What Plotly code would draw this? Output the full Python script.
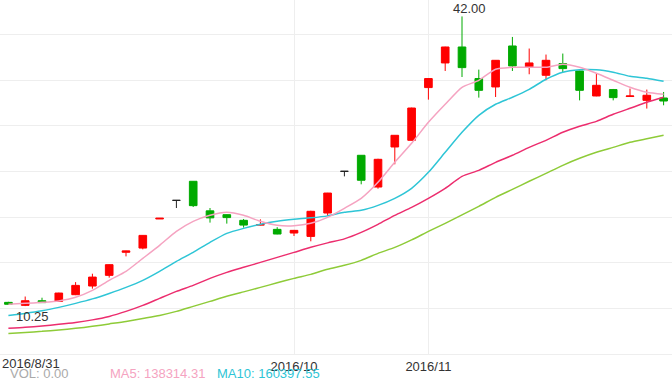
import plotly.graph_objects as go

# ---- data ----
opens = [10.66, 10.33, 10.84, 10.77, 11.50, 12.45, 13.62, 16.15, 16.61, 19.80,
         21.84, 23.93, 20.69, 20.27, 19.65, 19.13, 18.66, 18.26, 17.89, 20.45,
         25.02, 26.78, 23.30, 27.69, 28.42, 34.20, 36.90, 38.65, 35.19, 34.27,
         38.76, 36.46, 35.55, 36.83, 36.02, 33.28, 33.98, 33.22, 32.80, 33.06]
highs = [10.72, 11.30, 11.17, 11.72, 12.88, 13.80, 14.83, 16.32, 18.02, 19.88,
         21.84, 23.95, 21.00, 20.30, 19.80, 19.76, 18.90, 18.60, 20.70, 22.66,
         25.02, 26.80, 26.40, 29.00, 32.00, 35.22, 38.68, 42.00, 36.17, 37.22,
         39.75, 38.48, 37.82, 37.93, 36.05, 35.80, 34.05, 34.09, 33.98, 33.72]
lows = [10.38, 10.25, 10.60, 10.74, 11.45, 12.16, 13.37, 15.70, 16.47, 19.80,
        21.00, 21.11, 19.40, 19.29, 18.85, 19.10, 18.12, 17.93, 17.35, 20.12,
        24.47, 23.60, 23.12, 25.79, 28.40, 32.88, 36.02, 35.36, 33.10, 33.17,
        36.02, 35.66, 35.00, 35.91, 32.80, 33.25, 32.80, 33.20, 31.90, 32.26]
closes = [10.45, 10.84, 10.63, 11.68, 12.52, 13.43, 14.79, 16.30, 18.00, 19.88,
          21.84, 21.26, 19.92, 19.95, 19.13, 19.18, 18.15, 18.55, 20.64, 22.64,
          25.02, 24.04, 26.34, 28.97, 31.96, 35.19, 38.65, 36.39, 33.90, 37.19,
          36.57, 36.90, 37.19, 36.28, 33.90, 34.45, 33.10, 33.28, 33.36, 32.73]

ma5 = [10.44, 10.55, 10.66, 10.82, 11.21, 11.97, 13.07, 14.06, 15.48, 16.91,
       18.44, 19.54, 20.20, 20.53, 20.20, 19.54, 19.10, 19.05, 19.32, 19.98,
       20.97, 22.06, 23.82, 26.01, 28.09, 30.39, 32.37, 34.23, 35.00, 36.21,
       36.43, 36.43, 36.43, 36.75, 36.43, 35.77, 35.00, 34.23, 33.68, 33.46]
ma10 = [9.23, 9.45, 9.73, 10.11, 10.55, 11.04, 11.64, 12.30, 13.07, 14.06,
        15.15, 16.14, 17.24, 18.22, 18.77, 19.21, 19.54, 19.76, 19.92, 20.14,
        20.53, 20.75, 21.29, 22.06, 23.16, 24.91, 27.11, 29.30, 31.16, 32.37,
        33.14, 34.01, 35.11, 35.88, 36.15, 36.15, 35.88, 35.44, 35.22, 34.89]
ma20 = [7.81, 7.92, 8.08, 8.25, 8.46, 8.74, 9.12, 9.67, 10.33, 11.10,
        11.86, 12.52, 13.29, 13.95, 14.50, 15.04, 15.59, 16.14, 16.69, 17.18,
        17.62, 18.33, 19.21, 20.20, 21.07, 22.06, 23.16, 24.47, 25.13, 26.01,
        26.78, 27.65, 28.42, 29.30, 29.96, 30.50, 31.27, 31.93, 32.59, 33.14]
ma30 = [7.26, 7.37, 7.48, 7.64, 7.81, 8.03, 8.30, 8.57, 8.90, 9.23,
        9.67, 10.22, 10.77, 11.32, 11.81, 12.30, 12.80, 13.29, 13.73, 14.28,
        14.72, 15.26, 16.03, 16.69, 17.51, 18.44, 19.32, 20.25, 21.18, 22.17,
        23.05, 23.93, 24.80, 25.68, 26.45, 27.11, 27.65, 28.20, 28.59, 28.97]

tick_positions = [17, 25]
tick_labels = ["2016/10", "2016/11"]
first_label = "2016/8/31"
legend_texts = ["VOL: 0.00", "MA5: 138314.31", "MA10: 160397.55"]

# ---- styling ----
RED = "#ff0000"
GREEN = "#00aa00"
BLACK = "#222222"
C_MA5 = "#f5a3c1"
C_MA10 = "#2ec5d6"
C_MA20 = "#ec2d6e"
C_MA30 = "#8ecb38"
FONT = "Liberation Sans, Arial, sans-serif"

idx = list(range(len(opens)))

fig = go.Figure()


def add_candles(sel, color):
    if not sel:
        return
    fig.add_trace(go.Candlestick(
        x=[idx[i] for i in sel],
        open=[opens[i] for i in sel], high=[highs[i] for i in sel],
        low=[lows[i] for i in sel], close=[closes[i] for i in sel],
        increasing=dict(line=dict(color=color, width=1), fillcolor=color),
        decreasing=dict(line=dict(color=color, width=1), fillcolor=color),
        whiskerwidth=0, showlegend=False, hoverinfo="skip"))


up = [i for i in idx if closes[i] > opens[i]]
down = [i for i in idx if closes[i] < opens[i]]
flat = [i for i in idx if closes[i] == opens[i]]
add_candles(up, RED)
add_candles(down, GREEN)
add_candles(flat, BLACK)

for vals, col in [(ma30, C_MA30), (ma20, C_MA20), (ma10, C_MA10), (ma5, C_MA5)]:
    fig.add_trace(go.Scatter(x=idx, y=vals, mode="lines",
                             line=dict(color=col, width=1.5, shape="spline", smoothing=0.6),
                             showlegend=False, hoverinfo="skip"))

# high / low marks
i_hi = max(idx, key=lambda i: highs[i])
i_lo = min(idx, key=lambda i: lows[i])
fig.add_annotation(x=i_hi, y=highs[i_hi], text=f"{highs[i_hi]:.2f}", showarrow=False,
                   xshift=7, yshift=-2, yanchor="bottom",
                   font=dict(family=FONT, size=13, color="#333333"))
fig.add_annotation(x=i_lo, y=lows[i_lo], text=f"{lows[i_lo]:.2f}", showarrow=False,
                   xshift=7, yshift=-1, yanchor="top",
                   font=dict(family=FONT, size=13, color="#333333"))

# first x label (left aligned at the edge)
fig.add_annotation(xref="paper", yref="paper", x=0, y=0, xanchor="left", yanchor="top",
                   yshift=0, text=first_label, showarrow=False,
                   font=dict(family=FONT, size=13, color="#333333"))

# bottom info line
legend_x = [8, 108, 215]
legend_cols = ["#aaaaaa", C_MA5, C_MA10]
for t, px, c in zip(legend_texts, legend_x, legend_cols):
    fig.add_annotation(xref="paper", yref="paper", x=px / 672, y=0, xanchor="left",
                       yanchor="middle", yshift=-19, text=t, showarrow=False,
                       font=dict(family=FONT, size=13, color=c))

fig.update_layout(
    width=672, height=380,
    margin=dict(l=0, r=0, t=0, b=26),
    paper_bgcolor="white", plot_bgcolor="white",
    boxgap=0.35,
    showlegend=False,
    xaxis=dict(range=[-0.5, len(opens) - 0.5], tickmode="array",
               tickvals=tick_positions, ticktext=tick_labels,
               showgrid=True, gridcolor="#eeeeee", gridwidth=1,
               showline=True, linecolor="#eeeeee", ticks="",
               zeroline=False, rangeslider=dict(visible=False),
               tickfont=dict(family=FONT, size=13, color="#333333")),
    yaxis=dict(range=[5, 43.8], dtick=5, tick0=0, showgrid=True,
               gridcolor="#eeeeee", gridwidth=1, showticklabels=False,
               zeroline=False, ticks=""),
)

fig.write_html("out.html")
